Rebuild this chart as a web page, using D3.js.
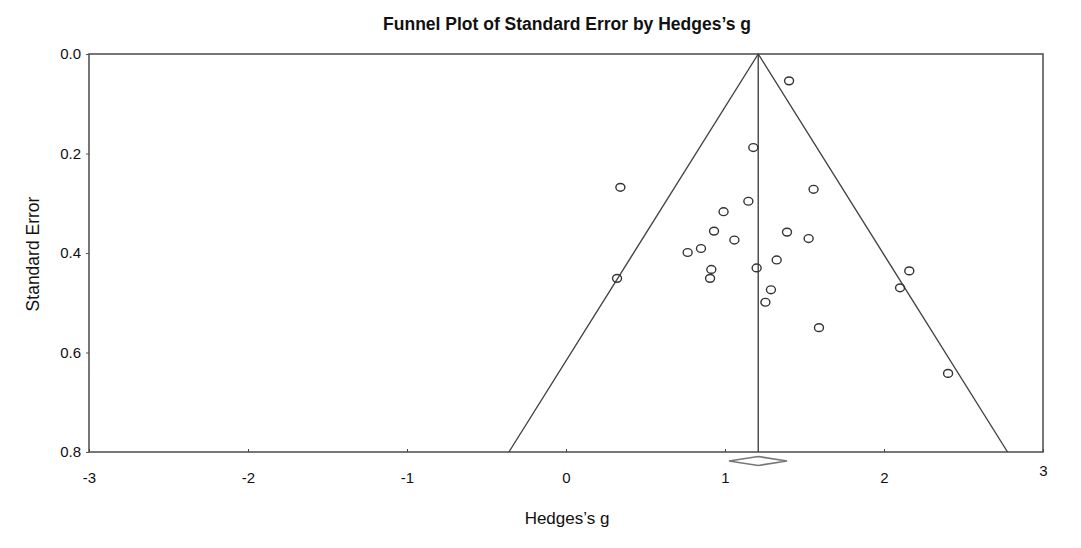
<!DOCTYPE html>
<html><head><meta charset="utf-8">
<script src="https://cdn.jsdelivr.net/npm/d3@7"></script>
<style>
body{margin:0;background:#fff;}
text{font-family:"Liberation Sans",Arial,sans-serif;fill:#111;}
</style></head>
<body><svg id="c" width="1081" height="548"></svg>
<script>
const studyG = [1.403,1.178,0.342,1.557,1.147,0.991,0.931,1.390,1.059,1.526,0.849,0.765,1.325,0.914,1.199,0.321,0.906,1.289,1.254,1.591,2.159,2.101,2.403];
const studySE = [0.054,0.188,0.268,0.272,0.296,0.317,0.356,0.358,0.374,0.371,0.391,0.399,0.414,0.433,0.430,0.451,0.451,0.474,0.499,0.550,0.436,0.470,0.642];
const pooledG = 1.209;
const pooledLow = 1.025, pooledHigh = 1.39;
const xTicks = [-3,-2,-1,0,1,2,3];
const yTicks = [0.0,0.2,0.4,0.6,0.8];
const seMax = 0.8;

const svg = d3.select("#c");
const L=89, R=1043, T=54, B=452;
const x = d3.scaleLinear().domain([-3,3]).range([L,R]);
const y = d3.scaleLinear().domain([0,0.8]).range([T,B]);

// title
svg.append("text").attr("x",567).attr("y",30).attr("text-anchor","middle")
  .style("font-weight","bold").style("font-size","17.5px")
  .text("Funnel Plot of Standard Error by Hedges\u2019s g");

// frame
svg.append("rect").attr("x",L).attr("y",T).attr("width",R-L).attr("height",B-T)
  .attr("fill","none").attr("stroke","#555").attr("stroke-width",1.6);

// axes
const ya = svg.append("g").attr("transform",`translate(${L},0)`)
  .call(d3.axisLeft(y).tickValues(yTicks).tickFormat(d=>d.toFixed(1)).tickSize(3).tickPadding(5));
ya.select(".domain").remove();
ya.selectAll("line").attr("stroke","#555");
ya.selectAll("text").style("font-size","15px").attr("fill","#111");

const xa = svg.append("g").attr("transform",`translate(0,${B})`)
  .call(d3.axisBottom(x).tickValues(xTicks).tickFormat(d=>String(d)).tickSize(-3).tickPadding(20));
xa.select(".domain").remove();
xa.selectAll("line").attr("stroke","#444");
xa.selectAll("text").style("font-size","15px").attr("fill","#111");
xa.selectAll(".tick").filter(d=>d===3).select("text").attr("dy","0.25em");

// axis labels
svg.append("text").attr("x",567).attr("y",524).attr("text-anchor","middle")
  .style("font-size","17px").text("Hedges\u2019s g");
svg.append("text").attr("transform","translate(39,254) rotate(-90)").attr("text-anchor","middle")
  .style("font-size","17.5px").text("Standard Error");

// funnel
const funnel = [[pooledG-1.96*seMax,seMax],[pooledG,0],[pooledG+1.96*seMax,seMax]];
svg.append("path").attr("d",d3.line().x(d=>x(d[0])).y(d=>y(d[1]))(funnel))
  .attr("fill","none").attr("stroke","#444").attr("stroke-width",1.4);
svg.append("line").attr("x1",x(pooledG)).attr("x2",x(pooledG)).attr("y1",y(0)).attr("y2",y(seMax))
  .attr("stroke","#444").attr("stroke-width",1.4);

// points
svg.append("g").selectAll("ellipse").data(studyG.map((g,i)=>[g,studySE[i]])).join("ellipse")
  .attr("cx",d=>x(d[0])).attr("cy",d=>y(d[1])).attr("rx",4.5).attr("ry",3.9)
  .attr("fill","none").attr("stroke","#333").attr("stroke-width",1.4);

// diamond
const dy = B+9;
svg.append("path").attr("d",`M${x(pooledLow)},${dy}L${x(pooledG)},${dy-4.5}L${x(pooledHigh)},${dy}L${x(pooledG)},${dy+4.5}Z`)
  .attr("fill","#fff").attr("stroke","#777").attr("stroke-width",1.6);
</script></body></html>
